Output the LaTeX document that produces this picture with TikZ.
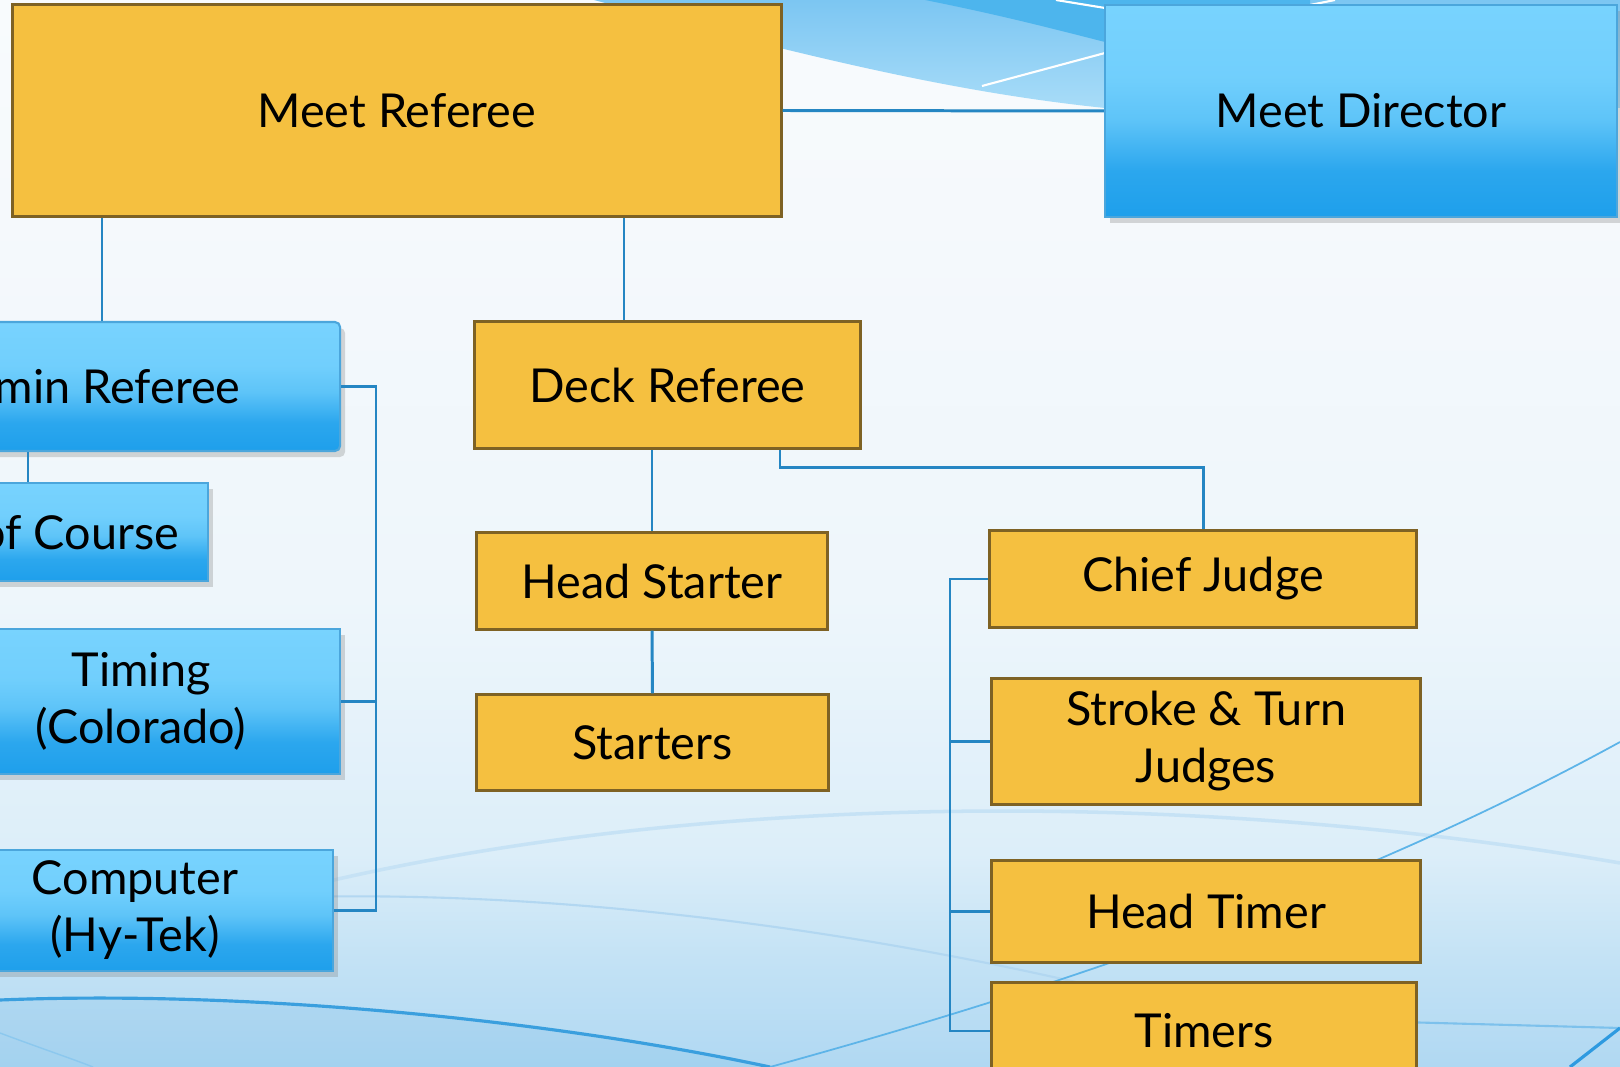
\documentclass[tikz,border=0pt]{standalone}
\usepackage{fontspec}
\setmainfont{Lato}
\usetikzlibrary{shadows,calc}
\definecolor{ofill}{HTML}{F5C040}
\definecolor{oline}{HTML}{7E6224}
\definecolor{linkc}{HTML}{2586C3}
\definecolor{btop}{HTML}{78D3FE}
\definecolor{bmid}{HTML}{5EC4F8}
\definecolor{bbot}{HTML}{1E9FEB}
\definecolor{bline}{HTML}{4BA6DC}
\definecolor{bgA}{HTML}{B0D8F2}
\definecolor{bgB}{HTML}{C3E2F5}
\definecolor{bgC}{HTML}{DCEEF9}
\definecolor{bgD}{HTML}{EEF6FB}
\definecolor{bgE}{HTML}{F5F9FC}
\definecolor{bgF}{HTML}{F8FBFD}
\definecolor{swA}{HTML}{7CC6F2}
\definecolor{swB}{HTML}{A8DCF8}
\definecolor{swDark}{HTML}{4DB5ED}
\definecolor{curveA}{HTML}{3A9FDE}
\definecolor{curveB}{HTML}{5DB4E8}
\definecolor{curveC}{HTML}{8CC8EE}
\definecolor{faintA}{HTML}{C6E2F5}
\definecolor{faintB}{HTML}{B2D7F1}
\definecolor{curveD}{HTML}{7DC1EC}
\definecolor{curveE}{HTML}{2E9AE0}
\pgfdeclareverticalshading{bluegrad}{100bp}{color(0bp)=(bbot); color(25bp)=(bbot); color(36bp)=(bbot!85!btop); color(48bp)=(bmid); color(58bp)=(btop!92!bbot); color(75bp)=(btop); color(100bp)=(btop)}
\pgfdeclareverticalshading{bggrad}{100bp}{color(0bp)=(bgA); color(25bp)=(bgA); color(30bp)=(bgB); color(35bp)=(bgC); color(47bp)=(bgD); color(65bp)=(bgE); color(75bp)=(bgF); color(100bp)=(bgF)}
\newcommand\lbl{\fontsize{13.3}{16.2}\selectfont}
\tikzset{
  obox/.style={draw=oline, line width=0.85pt, fill=ofill, inner sep=0pt, align=center, font=\lbl},
  bbox/.style={draw=bline, line width=0.6pt, shading=bluegrad,
    drop shadow={shadow xshift=0.05cm, shadow yshift=-0.06cm, opacity=0.3}, inner sep=0pt, align=center, font=\lbl},
  link/.style={draw=linkc, line width=0.85pt},
}
\begin{document}
\begin{tikzpicture}[x=0.01cm,y=-0.01cm]
\useasboundingbox (0,0) rectangle (1620,1067);
\clip (0,0) rectangle (1620,1067);
% background
\shade[shading=bggrad] (0,0) rectangle (1620,1067);
% top swoosh
\shade[top color=swA, bottom color=swB] (594,0) .. controls (800,55) and (950,92) .. (1105,108) -- (1620,108) -- (1620,0) -- cycle;
\fill[swDark] (925,0) .. controls (1000,15) and (1050,28) .. (1105,42) -- (1310,42) -- (1310,0) -- cycle;
\draw[white, line width=0.6pt] (1056,0) -- (1105,8);
\draw[white, line width=0.6pt] (982,86) -- (1105,53);
\draw[white, line width=0.6pt] (1310,5) -- (1335,0);
% bottom curves
\fill[curveA, opacity=0.1] (0,1000) .. controls (250,990) and (550,1020) .. (770,1067) -- (0,1067) -- cycle;
\draw[faintA, line width=1pt] (300,888) .. controls (700,790) and (1200,790) .. (1620,863);
\draw[faintB, line width=0.6pt] (300,897) .. controls (600,890) and (900,940) .. (1110,990);
\draw[curveA, line width=0.9pt] (0,1000) .. controls (250,990) and (550,1020) .. (770,1067);
\draw[curveB, line width=0.5pt] (770,1067) .. controls (1050,990) and (1350,890) .. (1620,742);
\draw[curveC, line width=0.4pt] (0,1033) .. controls (40,1048) and (70,1058) .. (93,1067);
\draw[curveD, line width=0.6pt] (1400,1022) -- (1620,1028);
\draw[curveE, line width=0.9pt] (1570,1067) -- (1620,1028);
% nodes
\node[obox, minimum width=7.685cm, minimum height=2.11cm] (mr) at (396.75,110.5) {Meet Referee};
\node[bbox, minimum width=5.12cm, minimum height=2.12cm] (md) at (1361,111) {Meet Director};
\node[bbox, rounded corners=1.5pt, minimum width=5.02cm, minimum height=1.29cm] (ar) at (89,386.5) {Admin Referee};
\node[bbox, minimum width=3.77cm, minimum height=0.98cm] (cc) at (19.5,532) {Clerk of Course};
\node[bbox, minimum width=3.98cm, minimum height=1.45cm] (tm) at (141,701.5) {Timing\\(Colorado)};
\node[bbox, minimum width=3.96cm, minimum height=1.21cm] (cp) at (135,910.5) {Computer\\(Hy-Tek)};
\node[obox, minimum width=3.85cm, minimum height=1.26cm] (dr) at (667.5,385) {Deck Referee};
\node[obox, minimum width=3.5cm, minimum height=0.96cm] (hs) at (652,581) {Head Starter};
\node[obox, minimum width=3.51cm, minimum height=0.95cm] (st) at (652.5,742.5) {Starters};
\node[obox, minimum width=4.26cm, minimum height=0.96cm] (cj) at (1203,579) {Chief Judge};
\node[obox, minimum width=4.28cm, minimum height=1.25cm] (sj) at (1206,741.5) {Stroke \& Turn\\Judges};
\node[obox, minimum width=4.28cm, minimum height=1.01cm] (ht) at (1206,911.5) {Head Timer};
\node[obox, minimum width=4.24cm, minimum height=0.96cm] (ti) at (1204,1031) {Timers};
% connectors
\draw[link] (mr.east) -- (md.west);
\coordinate (a1) at ($(ar.north)+(13,0)$);
\draw[link] (a1 |- mr.south) -- (a1);
\coordinate (m1) at ($(dr.north)+(-43.5,0)$);
\draw[link] (m1 |- mr.south) -- (m1);
\coordinate (c1) at ($(cc.north)+(8.5,0)$);
\draw[link] (c1 |- ar.south) -- (c1);
\coordinate (lb) at (376,0);
\draw[link] (ar.east) -- (ar.east -| lb) -- (cp.east -| lb) -- (cp.east);
\draw[link] (tm.east) -- (tm.east -| lb);
\draw[link] (hs.north |- dr.south) -- (hs.north);
\draw[link] (hs.south) -- (st.north);
\coordinate (d1) at ($(dr.south)+(112.5,0)$);
\draw[link] (d1) -- ++(0,18) -| (cj.north);
\coordinate (rb) at (950,0);
\draw[link] (cj.west) -- (cj.west -| rb) -- (ti.west -| rb) -- (ti.west);
\draw[link] (sj.west) -- (sj.west -| rb);
\draw[link] (ht.west) -- (ht.west -| rb);
\end{tikzpicture}
\end{document}
